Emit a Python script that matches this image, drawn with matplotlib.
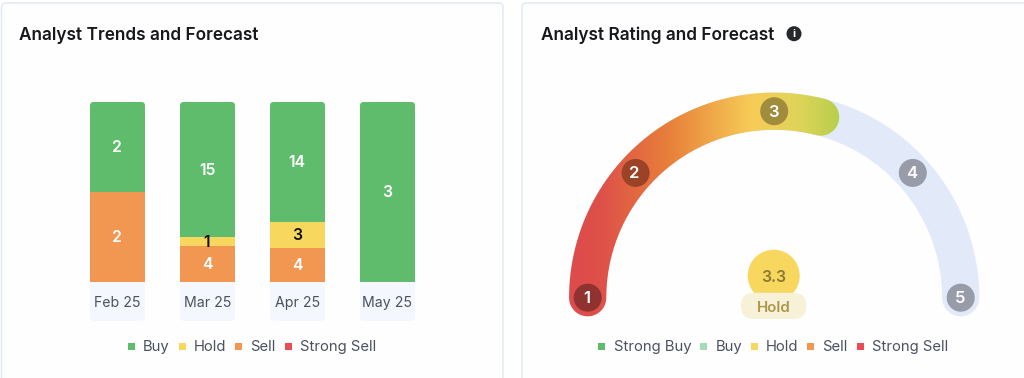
import numpy as np
import matplotlib
matplotlib.use("Agg")
import matplotlib.pyplot as plt
from matplotlib.colors import LinearSegmentedColormap
from matplotlib.patches import FancyBboxPatch, Circle, PathPatch
from matplotlib.path import Path

plt.rcParams['font.family'] = ['Inter', 'DejaVu Sans']

W, H = 1024, 378

months = ["Feb 25", "Mar 25", "Apr 25", "May 25"]
buy = [2, 15, 14, 3]
hold = [0, 1, 3, 0]
sell = [2, 4, 4, 0]
strong_sell = [0, 0, 0, 0]

trend_legend = ["Buy", "Hold", "Sell", "Strong Sell"]
gauge_legend = ["Strong Buy", "Buy", "Hold", "Sell", "Strong Sell"]

rating = 3.3
rating_label = "Hold"
rating_steps = [1, 2, 3, 4, 5]
step_angles = [0, 42, 90, 138, 180]  # gauge is not evenly spaced

GREEN = "#5fbc6c"
YELLOW = "#f8d75e"
ORANGE = "#f19752"
RED = "#ee4b57"
LIGHT_GREEN = "#a3dcb6"
TICK_BG = "#f4f8fe"
BORDER = "#dfe8f6"
TEXT = "#4b5161"
TRACK = "#e2e9f8"
step_colors = ["#8f3230", "#9a4327", "#a08c3c", "#989ca8", "#989ca8"]


def px_rect(x0, y0, x1, y1):
    # pixel box (y from top) to figure fraction
    return [x0 / W, 1 - y1 / H, (x1 - x0) / W, (y1 - y0) / H]


def draw_legend(ax, labels, colors, square_x, text_x, y=346):
    for lab, col, sx, tx in zip(labels, colors, square_x, text_x):
        ax.add_patch(plt.Rectangle((sx - 3.5, y - 3.5), 7, 7, color=col, lw=0))
        ax.text(tx, y + 5.3, lab, fontsize=10.7, color=TEXT, va="baseline", ha="left")


def draw_bars(fig):
    ax = fig.add_axes(px_rect(72.5, 102, 432.5, 282))
    ax.set_xlim(-0.5, 3.5)
    ax.set_ylim(0, 100)
    ax.axis("off")
    ax.patch.set_alpha(0)
    x = np.arange(len(months))
    width = 55 / 90
    totals = np.array(buy) + np.array(hold) + np.array(sell) + np.array(strong_sell)
    bottom = np.zeros(len(months))
    for vals, col, txt in [(sell, ORANGE, "white"), (hold, YELLOW, "#111111"), (buy, GREEN, "white")]:
        share = np.array(vals) / totals * 100
        bars = ax.bar(x, share, width, bottom=bottom, color=col, lw=0)
        for i, b in enumerate(bars):
            if vals[i] == 0:
                continue
            # rounded top corners only, the box carries on below the axis
            clip = FancyBboxPatch((x[i] - width / 2, -20), width, 120,
                                  boxstyle="round,pad=0,rounding_size=0.04",
                                  mutation_aspect=50,
                                  transform=ax.transData, fc="none", ec="none")
            ax.add_patch(clip)
            b.set_clip_path(clip)
            ax.text(x[i] - 0.005, bottom[i] + share[i] / 2 + 0.4, str(vals[i]), color=txt,
                    ha="center", va="center_baseline", fontsize=11.3, fontweight="semibold")
        bottom += share
    return ax


def draw_gauge(ax):
    cx, cy, r, half = 774.2, 297.7, 186.5, 18.6
    end = np.interp(rating, rating_steps, step_angles)

    def band(a0, a1):
        # ring sector with round caps, y axis is flipped (pixels)
        t = np.radians(np.linspace(a0, a1, 300))
        outer = np.c_[cx - (r + half) * np.cos(t), cy - (r + half) * np.sin(t)]
        inner = np.c_[cx - (r - half) * np.cos(t), cy - (r - half) * np.sin(t)][::-1]
        s = np.radians(np.linspace(0, 180, 40))[:, None]
        caps = []
        for a, sign in [(a1, 1), (a0, -1)]:
            ra = np.radians(a)
            c = np.array([cx - r * np.cos(ra), cy - r * np.sin(ra)])
            u = np.array([-np.cos(ra), -np.sin(ra)])
            v = np.array([np.sin(ra), -np.cos(ra)])
            caps.append(c + half * (sign * u * np.cos(s) + sign * v * np.sin(s)))
        pts = np.vstack([outer, caps[0], inner, caps[1], outer[:1]])
        return Path(pts, closed=False)

    ax.add_patch(PathPatch(band(0, 180), fc=TRACK, ec="none"))

    cmap = LinearSegmentedColormap.from_list("gauge", [
        (0.0, "#dd4a4c"), (0.13, "#de5049"), (0.38, "#e8803a"),
        (0.68, "#f7cc57"), (0.85, "#e0d45a"), (1.0, "#b6cf4a")])
    im = ax.imshow(np.linspace(0, 1, 256)[None, :], extent=(565, 840, 325, 85),
                   cmap=cmap, aspect="auto", zorder=2)
    clip = PathPatch(band(0, end), transform=ax.transData, fc="none", ec="none")
    ax.add_patch(clip)
    im.set_clip_path(clip)
    ax.set_xlim(0, W)
    ax.set_ylim(H, 0)

    for step, ang, col in zip(rating_steps, step_angles, step_colors):
        a = np.radians(ang)
        px, py = cx - r * np.cos(a), cy - r * np.sin(a)
        ax.add_patch(Circle((px, py), 14, fc=col, ec="none", zorder=3))
        ax.text(px - 1, py - 0.5, str(step), color="#ffffff", ha="center", va="center_baseline",
                fontsize=12, fontweight="semibold", zorder=4)

    ax.add_patch(Circle((773.7, 275.7), 26, fc=YELLOW, ec="none", zorder=3))
    ax.add_patch(FancyBboxPatch((741, 292.7), 65.4, 26.3, fc="#f7f1d8", ec="none", zorder=4,
                                boxstyle="round,pad=0,rounding_size=13", linewidth=0))
    ax.text(773.7, 275.7, f"{rating:.1f}", color="#8c7a35", ha="center", va="center_baseline",
            fontsize=11.3, fontweight="semibold", zorder=5)
    ax.text(773.7, 306, rating_label, color="#ab9748", ha="center", va="center_baseline",
            fontsize=10.8, fontweight="semibold", zorder=5)


def main():
    fig = plt.figure(figsize=(W / 100, H / 100), dpi=100, facecolor="white")
    bg = fig.add_axes([0, 0, 1, 1])
    bg.set_xlim(0, W)
    bg.set_ylim(H, 0)
    bg.axis("off")

    # cards run off the bottom / right edge of the crop
    for x0, x1 in [(1.5, 503), (522, 1040)]:
        bg.add_patch(FancyBboxPatch((x0 + 4, 7), x1 - x0 - 8, 400,
                                    boxstyle="round,pad=4,rounding_size=4", fc="#fefefe",
                                    ec=BORDER, lw=1))

    bg.text(19, 40, "Analyst Trends and Forecast", fontsize=12.4, fontweight="semibold",
            color="#17181c", va="baseline")
    bg.text(541, 40, "Analyst Rating and Forecast", fontsize=12.4, fontweight="semibold",
            color="#17181c", va="baseline")
    bg.add_patch(Circle((794, 33.7), 7.5, fc="#26282c", ec="none"))
    bg.text(794, 33.9, "i", color="white", fontsize=8, fontweight="bold", ha="center", va="center")

    # month labels sit in pale boxes under the bars
    for i, m in enumerate(months):
        c = 117.5 + 90 * i
        bg.add_patch(FancyBboxPatch((c - 27.5, 270), 55, 51,
                                    boxstyle="round,pad=0,rounding_size=4", fc=TICK_BG, ec="none"))
        bg.text(c, 307.3, m, fontsize=10.2, color=TEXT, ha="center", va="baseline")

    draw_bars(fig)

    draw_legend(bg, trend_legend, [GREEN, YELLOW, ORANGE, RED],
                [131, 182, 238, 288], [143, 194, 250, 300])
    draw_legend(bg, gauge_legend, [GREEN, LIGHT_GREEN, YELLOW, ORANGE, RED],
                [601, 703.5, 754, 810.5, 860.5], [613.5, 715.5, 766, 822.5, 872])

    draw_gauge(bg)

    fig.savefig("out.png", dpi=100)


if __name__ == "__main__":
    main()
